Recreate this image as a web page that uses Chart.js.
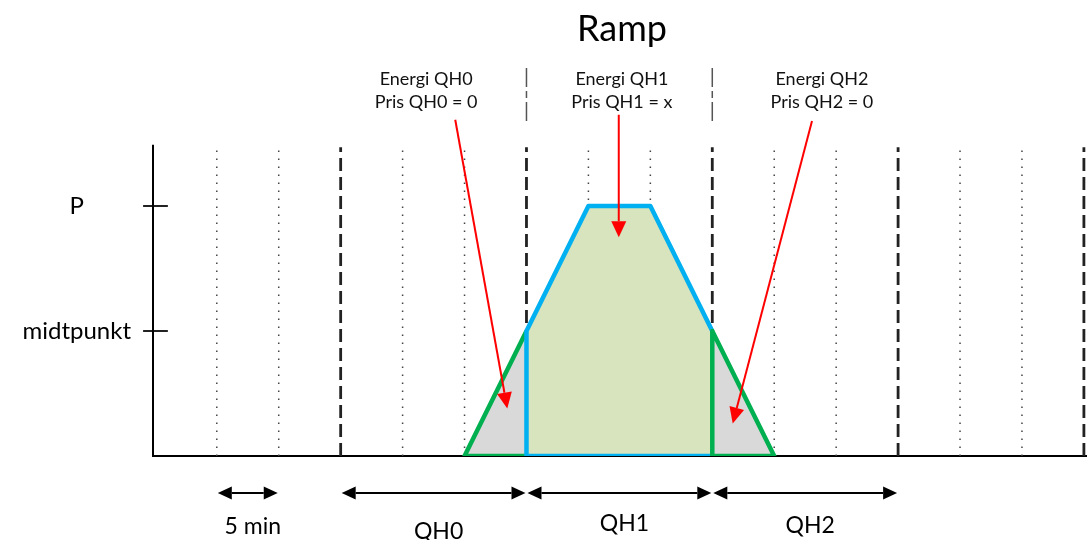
<!DOCTYPE html>
<html>
<head>
<meta charset="utf-8">
<title>Ramp</title>
<script src="https://cdn.jsdelivr.net/npm/chart.js@4.4.0/dist/chart.umd.min.js"></script>
<style>
  html, body { margin: 0; padding: 0; background: #fff; }
  #wrap { width: 1087px; height: 540px; position: relative; }
</style>
</head>
<body>
<div id="wrap"><canvas id="rampChart"></canvas></div>
<script>
// Ramp profile: x in 5 minute steps, y in levels (1 = midtpunkt, 2 = P)
const rampX = [5, 6, 7, 8, 9, 10];
const rampY = [0, 1, 2, 2, 1, 0];

// y axis ticks
const levelValues = [1, 2];
const levelLabels = ['midtpunkt', 'P'];

// vertical guides (5 min steps and quarter hour boundaries)
const dottedX = [1, 2, 4, 5, 7, 8, 10, 11, 13, 14];
const dashedX = [3, 6, 9, 12, 15];
const boundaryX = [6, 9];

// notes above the plot
const noteLines = [
    ['Energi QH0', 'Pris QH0 = 0'],
    ['Energi QH1', 'Pris QH1 = x'],
    ['Energi QH2', 'Pris QH2 = 0']
];

// spans under the axis
const spanLabels = ['5 min', 'QH0', 'QH1', 'QH2'];
const spanStart = [1, 3, 6, 9];
const spanEnd = [2, 6, 9, 12];

// --- layout ---
const xMin = -0.03, xMax = 15.05, yMax = 3.2;
const axisTop = 2.49, dottedTop = 2.45, dashedTop = 2.47;
const boundaryFrom = 2.68, boundaryTo = 3.13;
const noteX = [4.38, 7.54, 10.77];
const noteY = [2.968, 2.784];
const pointerFrom = [[4.85, 2.69], [7.49, 2.73], [10.61, 2.68]];
const pointerTo = [[5.69, 0.38], [7.49, 1.75], [9.33, 0.26]];
const spanArrowY = -0.296;
const spanLabelY = [-0.62, -0.66, -0.6, -0.615];

const BLUE = '#00b0f0', GREEN = '#00b050';
const FONT = 'Lato, "Open Sans", sans-serif';

const pt = i => ({ x: rampX[i], y: rampY[i] });
const base = i => ({ x: rampX[i], y: 0 });

function seg(data, color, width, extra) {
    return Object.assign({
        data: data,
        showLine: true,
        borderColor: color,
        borderWidth: width,
        pointRadius: 0,
        fill: false
    }, extra || {});
}

const datasets = [
    // outlines (drawn on top)
    seg([pt(4), base(4), pt(5), pt(4)], GREEN, 4.5, { borderJoinStyle: 'round' }),
    seg([base(4), base(1), pt(1), pt(2), pt(3), pt(4)], BLUE, 4.5, { borderJoinStyle: 'round' }),
    seg([base(1), pt(0), pt(1)], GREEN, 4.5, { borderJoinStyle: 'round' }),
    // energy areas
    seg([pt(0), pt(1)], 'rgba(0,0,0,0)', 0, { fill: 'origin', backgroundColor: '#d9d9d9' }),
    seg([pt(1), pt(2), pt(3), pt(4)], 'rgba(0,0,0,0)', 0, { fill: 'origin', backgroundColor: '#d7e4bd' }),
    seg([pt(4), pt(5)], 'rgba(0,0,0,0)', 0, { fill: 'origin', backgroundColor: '#d9d9d9' }),
    // y axis and its tick marks
    seg([{ x: xMin, y: 0 }, { x: xMin, y: axisTop }], '#000', 2, { clip: false })
];

levelValues.forEach(v => {
    datasets.push(seg([{ x: xMin - 0.16, y: v }, { x: xMin + 0.24, y: v }], '#222', 2, { clip: false }));
});
dottedX.forEach(x => {
    datasets.push(seg([{ x: x, y: 0 }, { x: x, y: dottedTop }], '#444', 1.5, { borderDash: [1.5, 6.5] }));
});
dashedX.forEach(x => {
    datasets.push(seg([{ x: x, y: 0 }, { x: x, y: dashedTop }], '#222', 2.8, { borderDash: [13, 6] }));
});
boundaryX.forEach(x => {
    datasets.push(seg([{ x: x, y: boundaryFrom }, { x: x, y: boundaryTo }], '#555', 1.5, { borderDash: [19, 4, 7, 4] }));
});

function arrowHead(ctx, x1, y1, x2, y2, len, half) {
    const a = Math.atan2(y2 - y1, x2 - x1);
    const c = Math.cos(a), s = Math.sin(a);
    ctx.beginPath();
    ctx.moveTo(x2, y2);
    ctx.lineTo(x2 - len * c + half * s, y2 - len * s - half * c);
    ctx.lineTo(x2 - len * c - half * s, y2 - len * s + half * c);
    ctx.closePath();
    ctx.fill();
}

function arrow(ctx, x1, y1, x2, y2, len, half, both) {
    const a = Math.atan2(y2 - y1, x2 - x1);
    const c = Math.cos(a), s = Math.sin(a);
    ctx.beginPath();
    ctx.moveTo(both ? x1 + len * c : x1, both ? y1 + len * s : y1);
    ctx.lineTo(x2 - len * c, y2 - len * s);
    ctx.stroke();
    arrowHead(ctx, x1, y1, x2, y2, len, half);
    if (both) arrowHead(ctx, x2, y2, x1, y1, len, half);
}

const annotations = {
    id: 'annotations',
    afterDraw(chart) {
        const ctx = chart.ctx;
        const xs = chart.scales.x, ys = chart.scales.y;
        const area = chart.chartArea;
        ctx.save();

        // title
        ctx.fillStyle = '#000';
        ctx.textAlign = 'center';
        ctx.textBaseline = 'alphabetic';
        ctx.font = '36px ' + FONT;
        ctx.fillText('Ramp', (area.left + area.right) / 2 + 2, 41);

        // notes
        ctx.font = '18px ' + FONT;
        ctx.fillStyle = '#111';
        noteLines.forEach((lines, i) => {
            lines.forEach((t, j) => {
                ctx.fillText(t, xs.getPixelForValue(noteX[i]), ys.getPixelForValue(noteY[j]));
            });
        });

        // red pointers
        ctx.strokeStyle = '#ff0000';
        ctx.fillStyle = '#ff0000';
        ctx.lineWidth = 2;
        pointerFrom.forEach((p, i) => {
            const q = pointerTo[i];
            arrow(ctx, xs.getPixelForValue(p[0]), ys.getPixelForValue(p[1]),
                xs.getPixelForValue(q[0]), ys.getPixelForValue(q[1]), 16, 7.5, false);
        });

        // spans under the axis
        ctx.strokeStyle = '#000';
        ctx.fillStyle = '#000';
        ctx.lineWidth = 2;
        const ay = ys.getPixelForValue(spanArrowY);
        ctx.font = '23px ' + FONT;
        spanLabels.forEach((label, i) => {
            const x1 = xs.getPixelForValue(spanStart[i]);
            const x2 = xs.getPixelForValue(spanEnd[i]);
            arrow(ctx, x1 + 1, ay, x2 - 1, ay, 14, 6.5, true);
            ctx.fillText(label, (x1 + x2) / 2 + 5, ys.getPixelForValue(spanLabelY[i]));
        });
        ctx.restore();
    }
};

Chart.defaults.font.family = FONT;

new Chart(document.getElementById('rampChart'), {
    type: 'scatter',
    data: { datasets: datasets },
    options: {
        responsive: true,
        maintainAspectRatio: false,
        animation: false,
        layout: { padding: { top: 56, left: 0, right: 0, bottom: 0 } },
        plugins: {
            legend: { display: false },
            tooltip: { enabled: false },
            title: { display: false }
        },
        scales: {
            x: {
                type: 'linear',
                min: xMin,
                max: xMax,
                grid: { display: false, drawTicks: false },
                ticks: { display: false },
                border: { display: true, color: '#000', width: 2 },
                afterFit: s => { s.height = 84; }
            },
            y: {
                type: 'linear',
                min: 0,
                max: yMax,
                afterBuildTicks: s => { s.ticks = levelValues.map(v => ({ value: v })); },
                grid: { display: false, drawTicks: false },
                border: { display: false },
                ticks: {
                    crossAlign: 'center',
                    padding: 22,
                    color: '#000',
                    font: { size: 24 },
                    callback: v => levelLabels[levelValues.indexOf(v)]
                },
                afterFit: s => { s.width = 153; }
            }
        }
    },
    plugins: [annotations]
});
</script>
</body>
</html>
